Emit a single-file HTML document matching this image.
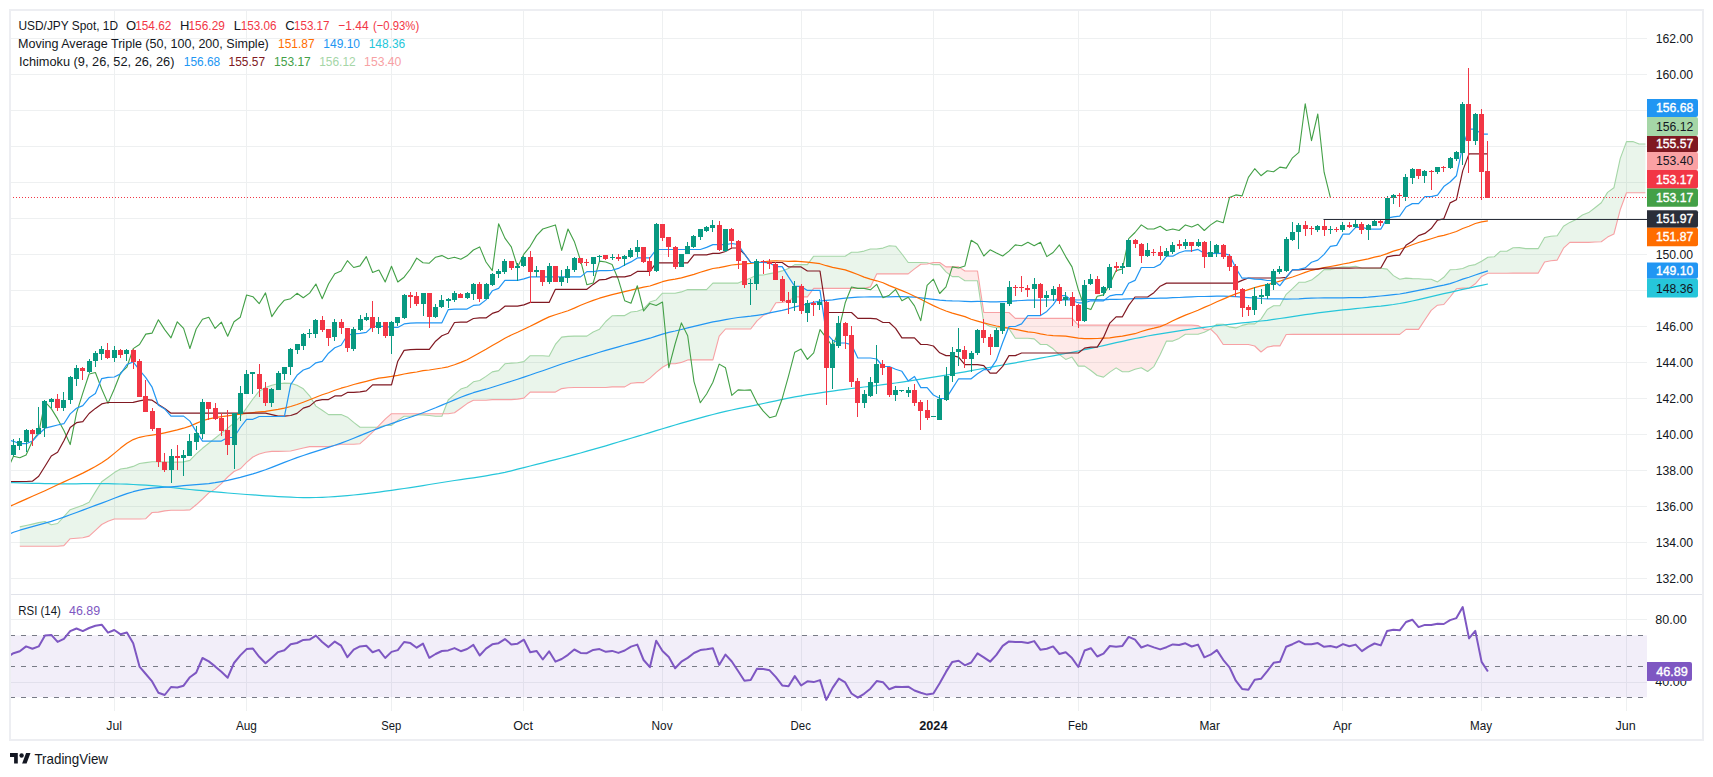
<!DOCTYPE html>
<html><head><meta charset="utf-8"><title>USD/JPY Spot chart</title>
<style>
html,body{margin:0;padding:0;background:#fff;}
body{width:1713px;height:777px;overflow:hidden;}
svg{display:block;font-family:"Liberation Sans",sans-serif;}
text{-webkit-font-smoothing:antialiased;}
</style></head><body>
<svg width="1713" height="777" viewBox="0 0 1713 777">
<rect x="0" y="0" width="1713" height="777" fill="#ffffff"/>

<g stroke="#eef0f1" stroke-width="1"><line x1="114.5" y1="11" x2="114.5" y2="594" /><line x1="114.5" y1="595" x2="114.5" y2="711" /><line x1="246.5" y1="11" x2="246.5" y2="594" /><line x1="246.5" y1="595" x2="246.5" y2="711" /><line x1="391.5" y1="11" x2="391.5" y2="594" /><line x1="391.5" y1="595" x2="391.5" y2="711" /><line x1="523.5" y1="11" x2="523.5" y2="594" /><line x1="523.5" y1="595" x2="523.5" y2="711" /><line x1="662.5" y1="11" x2="662.5" y2="594" /><line x1="662.5" y1="595" x2="662.5" y2="711" /><line x1="801.5" y1="11" x2="801.5" y2="594" /><line x1="801.5" y1="595" x2="801.5" y2="711" /><line x1="933.5" y1="11" x2="933.5" y2="594" /><line x1="933.5" y1="595" x2="933.5" y2="711" /><line x1="1078.5" y1="11" x2="1078.5" y2="594" /><line x1="1078.5" y1="595" x2="1078.5" y2="711" /><line x1="1210.5" y1="11" x2="1210.5" y2="594" /><line x1="1210.5" y1="595" x2="1210.5" y2="711" /><line x1="1342.5" y1="11" x2="1342.5" y2="594" /><line x1="1342.5" y1="595" x2="1342.5" y2="711" /><line x1="1481.5" y1="11" x2="1481.5" y2="594" /><line x1="1481.5" y1="595" x2="1481.5" y2="711" /><line x1="1626.5" y1="11" x2="1626.5" y2="594" /><line x1="1626.5" y1="595" x2="1626.5" y2="711" /><line x1="11" y1="578.5" x2="1647" y2="578.5" /><line x1="11" y1="542.5" x2="1647" y2="542.5" /><line x1="11" y1="506.5" x2="1647" y2="506.5" /><line x1="11" y1="470.5" x2="1647" y2="470.5" /><line x1="11" y1="434.5" x2="1647" y2="434.5" /><line x1="11" y1="398.5" x2="1647" y2="398.5" /><line x1="11" y1="362.5" x2="1647" y2="362.5" /><line x1="11" y1="326.5" x2="1647" y2="326.5" /><line x1="11" y1="290.5" x2="1647" y2="290.5" /><line x1="11" y1="254.5" x2="1647" y2="254.5" /><line x1="11" y1="218.5" x2="1647" y2="218.5" /><line x1="11" y1="182.5" x2="1647" y2="182.5" /><line x1="11" y1="146.5" x2="1647" y2="146.5" /><line x1="11" y1="110.5" x2="1647" y2="110.5" /><line x1="11" y1="74.5" x2="1647" y2="74.5" /><line x1="11" y1="38.5" x2="1647" y2="38.5" /><line x1="11" y1="619.5" x2="1647" y2="619.5" /><line x1="11" y1="682.5" x2="1647" y2="682.5" /></g>
<defs><clipPath id="cp"><rect x="11" y="11" width="1636" height="583"/></clipPath><clipPath id="cr"><rect x="11" y="595" width="1636" height="116"/></clipPath></defs>
<g clip-path="url(#cp)">
<polygon fill="rgba(67,160,71,0.11)" points="19.8,526.9 26.1,525.5 32.4,524.1 38.7,522.6 45.0,521.5 51.3,524.7 57.6,523.5 63.9,516.6 70.2,509.7 76.5,507.6 82.8,505.2 89.1,502.3 95.4,491.9 101.7,481.8 108.0,477.2 114.3,472.6 120.6,469.0 126.9,468.1 133.2,466.4 139.5,463.5 145.8,462.6 152.1,461.7 158.4,461.7 164.7,461.9 171.0,462.2 177.3,462.1 183.6,461.9 189.9,460.4 196.2,453.9 202.5,448.3 208.8,443.2 215.1,438.2 221.4,433.1 227.7,428.1 234.0,423.0 240.3,416.7 246.6,407.9 252.9,399.0 259.2,391.2 265.5,387.5 271.8,385.2 278.1,383.8 284.4,383.1 290.7,383.4 297.0,385.3 303.3,388.8 309.6,395.8 315.9,406.1 322.2,410.3 328.5,414.6 334.8,414.6 341.1,414.6 347.4,417.2 353.7,422.4 360.0,427.2 366.3,427.2 372.6,427.2 377.4,427.2 377.4,427.2 372.6,432.1 366.3,438.1 360.0,443.7 353.7,444.3 347.4,444.3 341.1,444.3 334.8,445.5 328.5,446.6 322.2,446.6 315.9,446.6 309.6,446.6 303.3,448.0 297.0,449.5 290.7,451.0 284.4,451.3 278.1,451.4 271.8,451.4 265.5,452.2 259.2,454.0 252.9,457.0 246.6,462.3 240.3,468.8 234.0,471.5 227.7,477.0 221.4,483.7 215.1,489.1 208.8,492.9 202.5,499.0 196.2,504.8 189.9,509.9 183.6,510.2 177.3,510.2 171.0,510.2 164.7,510.9 158.4,512.1 152.1,512.5 145.8,518.7 139.5,519.0 133.2,519.0 126.9,519.0 120.6,519.0 114.3,519.0 108.0,521.3 101.7,524.5 95.4,530.3 89.1,536.1 82.8,537.8 76.5,538.3 70.2,538.7 63.9,545.6 57.6,546.3 51.3,546.3 45.0,546.3 38.7,546.3 32.4,546.3 26.1,546.3 19.8,546.3"/>
<polygon fill="rgba(244,67,54,0.11)" points="377.4,427.2 378.9,427.2 385.2,425.4 391.5,425.4 397.8,420.4 404.1,416.3 410.4,416.3 416.7,414.9 423.0,414.9 429.3,415.5 435.6,416.3 441.9,416.3 442.9,413.7 442.9,413.7 441.9,413.7 435.6,413.7 429.3,413.7 423.0,413.7 416.7,413.7 410.4,413.7 404.1,413.7 397.8,413.7 391.5,413.7 385.2,419.2 378.9,425.6 377.4,427.2"/>
<polygon fill="rgba(67,160,71,0.11)" points="442.9,413.7 448.2,400.0 454.5,394.3 460.8,389.1 467.1,387.0 473.4,381.8 479.7,380.5 486.0,376.4 492.3,371.9 498.6,370.6 504.9,363.8 511.3,363.1 517.6,362.7 523.9,361.6 530.2,355.7 536.5,355.7 542.8,355.7 549.1,356.2 555.4,344.4 561.7,337.1 568.0,336.4 574.3,336.1 580.6,336.1 586.9,336.1 593.2,332.0 599.5,329.2 605.8,321.5 612.1,315.8 618.4,315.6 624.7,315.6 631.0,312.0 637.3,311.3 643.6,308.9 649.9,302.1 656.2,299.9 662.5,293.2 668.8,293.2 675.1,293.2 681.4,291.9 687.7,289.6 694.0,289.6 700.3,289.6 706.6,289.6 712.9,283.1 719.2,283.1 725.5,283.1 731.8,283.1 738.1,283.1 744.4,280.4 750.7,278.0 757.0,275.1 763.3,275.0 769.6,273.6 775.9,272.6 782.2,270.9 788.5,268.6 794.8,264.6 801.1,264.6 807.4,264.6 813.7,256.2 820.0,256.2 826.3,256.2 832.6,256.2 838.9,256.2 845.2,256.2 851.5,252.2 857.8,252.2 864.1,251.1 870.4,249.0 876.7,249.0 883.0,248.1 889.3,245.8 895.6,246.2 901.9,254.0 908.2,262.5 914.5,262.5 920.8,262.5 927.1,262.8 929.5,263.4 929.5,263.4 927.1,264.0 920.8,264.3 914.5,268.9 908.2,273.9 901.9,273.9 895.6,273.9 889.3,273.9 883.0,273.9 876.7,273.9 870.4,286.9 864.1,288.4 857.8,288.4 851.5,288.4 845.2,288.4 838.9,288.4 832.6,288.4 826.3,288.4 820.0,288.4 813.7,288.4 807.4,296.9 801.1,296.9 794.8,296.9 788.5,300.9 782.2,302.4 775.9,302.8 769.6,312.9 763.3,315.3 757.0,320.8 750.7,329.0 744.4,329.0 738.1,329.0 731.8,329.0 725.5,329.0 719.2,336.2 712.9,359.9 706.6,359.9 700.3,359.9 694.0,359.9 687.7,359.9 681.4,362.4 675.1,363.7 668.8,363.7 662.5,367.3 656.2,372.4 649.9,378.1 643.6,382.6 637.3,382.6 631.0,383.2 624.7,386.9 618.4,386.9 612.1,386.9 605.8,387.5 599.5,387.5 593.2,387.5 586.9,387.5 580.6,387.5 574.3,387.5 568.0,387.8 561.7,388.6 555.4,392.1 549.1,392.1 542.8,392.1 536.5,392.1 530.2,392.1 523.9,398.1 517.6,399.1 511.3,399.6 504.9,399.6 498.6,399.6 492.3,399.6 486.0,400.3 479.7,400.3 473.4,400.3 467.1,403.6 460.8,408.2 454.5,412.7 448.2,413.7 442.9,413.7"/>
<polygon fill="rgba(244,67,54,0.11)" points="929.5,263.4 933.4,264.6 939.7,264.6 946.0,271.9 952.3,276.6 958.6,276.6 964.9,280.8 971.2,280.8 977.5,280.8 983.8,323.0 990.1,326.4 996.4,327.8 1002.7,327.8 1009.0,328.6 1015.3,338.2 1021.6,338.2 1027.9,338.2 1034.2,338.9 1040.5,344.5 1046.8,344.5 1053.1,348.8 1059.4,354.6 1065.7,359.4 1072.0,357.1 1078.3,366.1 1084.6,366.1 1090.9,370.5 1097.2,375.5 1103.5,377.1 1109.8,372.1 1116.1,367.9 1122.4,371.7 1128.7,371.7 1135.0,369.2 1141.3,367.7 1147.6,371.5 1153.9,366.6 1160.2,354.4 1166.5,341.1 1172.8,341.1 1179.1,338.4 1185.4,334.3 1191.7,334.3 1198.0,334.3 1204.3,332.2 1210.1,329.2 1210.1,329.2 1204.3,329.2 1198.0,325.6 1191.7,325.1 1185.4,325.1 1179.1,325.1 1172.8,325.1 1166.5,325.1 1160.2,325.1 1153.9,325.1 1147.6,325.1 1141.3,325.1 1135.0,325.1 1128.7,325.1 1122.4,325.1 1116.1,325.1 1109.8,325.1 1103.5,325.1 1097.2,325.1 1090.9,325.1 1084.6,325.1 1078.3,325.1 1072.0,318.4 1065.7,318.4 1059.4,318.4 1053.1,318.4 1046.8,318.4 1040.5,318.4 1034.2,318.4 1027.9,318.4 1021.6,318.4 1015.3,318.4 1009.0,312.5 1002.7,312.5 996.4,312.5 990.1,312.5 983.8,312.5 977.5,271.0 971.2,271.0 964.9,271.0 958.6,266.9 952.3,266.9 946.0,266.9 939.7,262.5 933.4,262.5 929.5,263.4"/>
<polygon fill="rgba(67,160,71,0.11)" points="1210.1,329.2 1210.6,328.9 1216.9,324.3 1223.2,324.3 1229.5,326.9 1235.8,327.9 1242.1,325.4 1248.4,323.9 1254.7,323.9 1261.0,319.1 1267.3,309.5 1273.6,305.7 1279.9,305.7 1286.2,294.3 1292.5,288.7 1298.9,282.3 1305.2,282.3 1311.5,280.1 1317.8,275.3 1324.1,269.6 1330.4,269.6 1336.7,267.9 1343.0,266.9 1349.3,267.0 1355.6,266.2 1361.9,268.2 1368.2,268.2 1374.5,268.2 1380.8,268.2 1387.1,269.1 1393.4,275.6 1399.7,279.3 1406.0,278.1 1412.3,278.6 1418.6,278.7 1424.9,279.3 1431.2,279.3 1437.5,281.9 1443.8,277.3 1450.1,269.8 1456.4,269.5 1462.7,268.5 1469.0,265.7 1475.3,264.6 1481.6,261.3 1487.9,257.3 1494.2,256.8 1500.5,251.2 1506.8,251.2 1513.1,247.7 1519.4,247.6 1525.7,248.6 1532.0,248.6 1538.3,248.6 1544.6,237.5 1550.9,236.2 1557.2,235.7 1563.5,226.2 1569.8,222.4 1576.1,219.6 1582.4,215.0 1588.7,212.6 1595.0,207.7 1601.3,202.7 1607.6,192.4 1613.9,187.8 1620.2,158.6 1626.5,141.6 1632.8,141.6 1639.1,144.0 1645.4,144.0 1645.4,192.8 1639.1,192.8 1632.8,192.8 1626.5,192.8 1620.2,209.8 1613.9,234.0 1607.6,237.1 1601.3,241.7 1595.0,242.0 1588.7,242.4 1582.4,242.4 1576.1,242.4 1569.8,242.4 1563.5,248.2 1557.2,260.1 1550.9,260.7 1544.6,262.0 1538.3,273.1 1532.0,273.1 1525.7,273.1 1519.4,273.1 1513.1,273.1 1506.8,273.3 1500.5,273.3 1494.2,273.3 1487.9,273.3 1481.6,276.4 1475.3,283.8 1469.0,288.1 1462.7,288.1 1456.4,288.8 1450.1,297.0 1443.8,304.5 1437.5,305.2 1431.2,310.4 1424.9,319.8 1418.6,329.4 1412.3,329.4 1406.0,329.4 1399.7,334.4 1393.4,334.4 1387.1,334.4 1380.8,334.4 1374.5,334.4 1368.2,334.4 1361.9,334.4 1355.6,334.4 1349.3,334.4 1343.0,334.4 1336.7,334.4 1330.4,334.4 1324.1,334.4 1317.8,334.4 1311.5,334.4 1305.2,334.4 1298.9,334.4 1292.5,334.4 1286.2,334.5 1279.9,345.9 1273.6,345.9 1267.3,347.1 1261.0,352.0 1254.7,346.0 1248.4,344.5 1242.1,344.5 1235.8,344.5 1229.5,344.5 1223.2,344.5 1216.9,335.1 1210.6,329.2 1210.1,329.2"/>
<polyline fill="none" stroke="#a5d6a7" stroke-width="1.1" stroke-linejoin="round" points="19.8,526.9 26.1,525.5 32.4,524.1 38.7,522.6 45.0,521.5 51.3,524.7 57.6,523.5 63.9,516.6 70.2,509.7 76.5,507.6 82.8,505.2 89.1,502.3 95.4,491.9 101.7,481.8 108.0,477.2 114.3,472.6 120.6,469.0 126.9,468.1 133.2,466.4 139.5,463.5 145.8,462.6 152.1,461.7 158.4,461.7 164.7,461.9 171.0,462.2 177.3,462.1 183.6,461.9 189.9,460.4 196.2,453.9 202.5,448.3 208.8,443.2 215.1,438.2 221.4,433.1 227.7,428.1 234.0,423.0 240.3,416.7 246.6,407.9 252.9,399.0 259.2,391.2 265.5,387.5 271.8,385.2 278.1,383.8 284.4,383.1 290.7,383.4 297.0,385.3 303.3,388.8 309.6,395.8 315.9,406.1 322.2,410.3 328.5,414.6 334.8,414.6 341.1,414.6 347.4,417.2 353.7,422.4 360.0,427.2 366.3,427.2 372.6,427.2 378.9,427.2 385.2,425.4 391.5,425.4 397.8,420.4 404.1,416.3 410.4,416.3 416.7,414.9 423.0,414.9 429.3,415.5 435.6,416.3 441.9,416.3 448.2,400.0 454.5,394.3 460.8,389.1 467.1,387.0 473.4,381.8 479.7,380.5 486.0,376.4 492.3,371.9 498.6,370.6 504.9,363.8 511.3,363.1 517.6,362.7 523.9,361.6 530.2,355.7 536.5,355.7 542.8,355.7 549.1,356.2 555.4,344.4 561.7,337.1 568.0,336.4 574.3,336.1 580.6,336.1 586.9,336.1 593.2,332.0 599.5,329.2 605.8,321.5 612.1,315.8 618.4,315.6 624.7,315.6 631.0,312.0 637.3,311.3 643.6,308.9 649.9,302.1 656.2,299.9 662.5,293.2 668.8,293.2 675.1,293.2 681.4,291.9 687.7,289.6 694.0,289.6 700.3,289.6 706.6,289.6 712.9,283.1 719.2,283.1 725.5,283.1 731.8,283.1 738.1,283.1 744.4,280.4 750.7,278.0 757.0,275.1 763.3,275.0 769.6,273.6 775.9,272.6 782.2,270.9 788.5,268.6 794.8,264.6 801.1,264.6 807.4,264.6 813.7,256.2 820.0,256.2 826.3,256.2 832.6,256.2 838.9,256.2 845.2,256.2 851.5,252.2 857.8,252.2 864.1,251.1 870.4,249.0 876.7,249.0 883.0,248.1 889.3,245.8 895.6,246.2 901.9,254.0 908.2,262.5 914.5,262.5 920.8,262.5 927.1,262.8 933.4,264.6 939.7,264.6 946.0,271.9 952.3,276.6 958.6,276.6 964.9,280.8 971.2,280.8 977.5,280.8 983.8,323.0 990.1,326.4 996.4,327.8 1002.7,327.8 1009.0,328.6 1015.3,338.2 1021.6,338.2 1027.9,338.2 1034.2,338.9 1040.5,344.5 1046.8,344.5 1053.1,348.8 1059.4,354.6 1065.7,359.4 1072.0,357.1 1078.3,366.1 1084.6,366.1 1090.9,370.5 1097.2,375.5 1103.5,377.1 1109.8,372.1 1116.1,367.9 1122.4,371.7 1128.7,371.7 1135.0,369.2 1141.3,367.7 1147.6,371.5 1153.9,366.6 1160.2,354.4 1166.5,341.1 1172.8,341.1 1179.1,338.4 1185.4,334.3 1191.7,334.3 1198.0,334.3 1204.3,332.2 1210.6,328.9 1216.9,324.3 1223.2,324.3 1229.5,326.9 1235.8,327.9 1242.1,325.4 1248.4,323.9 1254.7,323.9 1261.0,319.1 1267.3,309.5 1273.6,305.7 1279.9,305.7 1286.2,294.3 1292.5,288.7 1298.9,282.3 1305.2,282.3 1311.5,280.1 1317.8,275.3 1324.1,269.6 1330.4,269.6 1336.7,267.9 1343.0,266.9 1349.3,267.0 1355.6,266.2 1361.9,268.2 1368.2,268.2 1374.5,268.2 1380.8,268.2 1387.1,269.1 1393.4,275.6 1399.7,279.3 1406.0,278.1 1412.3,278.6 1418.6,278.7 1424.9,279.3 1431.2,279.3 1437.5,281.9 1443.8,277.3 1450.1,269.8 1456.4,269.5 1462.7,268.5 1469.0,265.7 1475.3,264.6 1481.6,261.3 1487.9,257.3 1494.2,256.8 1500.5,251.2 1506.8,251.2 1513.1,247.7 1519.4,247.6 1525.7,248.6 1532.0,248.6 1538.3,248.6 1544.6,237.5 1550.9,236.2 1557.2,235.7 1563.5,226.2 1569.8,222.4 1576.1,219.6 1582.4,215.0 1588.7,212.6 1595.0,207.7 1601.3,202.7 1607.6,192.4 1613.9,187.8 1620.2,158.6 1626.5,141.6 1632.8,141.6 1639.1,144.0 1645.4,144.0"/>
<polyline fill="none" stroke="#f7a1a4" stroke-width="1.1" stroke-linejoin="round" points="19.8,546.3 26.1,546.3 32.4,546.3 38.7,546.3 45.0,546.3 51.3,546.3 57.6,546.3 63.9,545.6 70.2,538.7 76.5,538.3 82.8,537.8 89.1,536.1 95.4,530.3 101.7,524.5 108.0,521.3 114.3,519.0 120.6,519.0 126.9,519.0 133.2,519.0 139.5,519.0 145.8,518.7 152.1,512.5 158.4,512.1 164.7,510.9 171.0,510.2 177.3,510.2 183.6,510.2 189.9,509.9 196.2,504.8 202.5,499.0 208.8,492.9 215.1,489.1 221.4,483.7 227.7,477.0 234.0,471.5 240.3,468.8 246.6,462.3 252.9,457.0 259.2,454.0 265.5,452.2 271.8,451.4 278.1,451.4 284.4,451.3 290.7,451.0 297.0,449.5 303.3,448.0 309.6,446.6 315.9,446.6 322.2,446.6 328.5,446.6 334.8,445.5 341.1,444.3 347.4,444.3 353.7,444.3 360.0,443.7 366.3,438.1 372.6,432.1 378.9,425.6 385.2,419.2 391.5,413.7 397.8,413.7 404.1,413.7 410.4,413.7 416.7,413.7 423.0,413.7 429.3,413.7 435.6,413.7 441.9,413.7 448.2,413.7 454.5,412.7 460.8,408.2 467.1,403.6 473.4,400.3 479.7,400.3 486.0,400.3 492.3,399.6 498.6,399.6 504.9,399.6 511.3,399.6 517.6,399.1 523.9,398.1 530.2,392.1 536.5,392.1 542.8,392.1 549.1,392.1 555.4,392.1 561.7,388.6 568.0,387.8 574.3,387.5 580.6,387.5 586.9,387.5 593.2,387.5 599.5,387.5 605.8,387.5 612.1,386.9 618.4,386.9 624.7,386.9 631.0,383.2 637.3,382.6 643.6,382.6 649.9,378.1 656.2,372.4 662.5,367.3 668.8,363.7 675.1,363.7 681.4,362.4 687.7,359.9 694.0,359.9 700.3,359.9 706.6,359.9 712.9,359.9 719.2,336.2 725.5,329.0 731.8,329.0 738.1,329.0 744.4,329.0 750.7,329.0 757.0,320.8 763.3,315.3 769.6,312.9 775.9,302.8 782.2,302.4 788.5,300.9 794.8,296.9 801.1,296.9 807.4,296.9 813.7,288.4 820.0,288.4 826.3,288.4 832.6,288.4 838.9,288.4 845.2,288.4 851.5,288.4 857.8,288.4 864.1,288.4 870.4,286.9 876.7,273.9 883.0,273.9 889.3,273.9 895.6,273.9 901.9,273.9 908.2,273.9 914.5,268.9 920.8,264.3 927.1,264.0 933.4,262.5 939.7,262.5 946.0,266.9 952.3,266.9 958.6,266.9 964.9,271.0 971.2,271.0 977.5,271.0 983.8,312.5 990.1,312.5 996.4,312.5 1002.7,312.5 1009.0,312.5 1015.3,318.4 1021.6,318.4 1027.9,318.4 1034.2,318.4 1040.5,318.4 1046.8,318.4 1053.1,318.4 1059.4,318.4 1065.7,318.4 1072.0,318.4 1078.3,325.1 1084.6,325.1 1090.9,325.1 1097.2,325.1 1103.5,325.1 1109.8,325.1 1116.1,325.1 1122.4,325.1 1128.7,325.1 1135.0,325.1 1141.3,325.1 1147.6,325.1 1153.9,325.1 1160.2,325.1 1166.5,325.1 1172.8,325.1 1179.1,325.1 1185.4,325.1 1191.7,325.1 1198.0,325.6 1204.3,329.2 1210.6,329.2 1216.9,335.1 1223.2,344.5 1229.5,344.5 1235.8,344.5 1242.1,344.5 1248.4,344.5 1254.7,346.0 1261.0,352.0 1267.3,347.1 1273.6,345.9 1279.9,345.9 1286.2,334.5 1292.5,334.4 1298.9,334.4 1305.2,334.4 1311.5,334.4 1317.8,334.4 1324.1,334.4 1330.4,334.4 1336.7,334.4 1343.0,334.4 1349.3,334.4 1355.6,334.4 1361.9,334.4 1368.2,334.4 1374.5,334.4 1380.8,334.4 1387.1,334.4 1393.4,334.4 1399.7,334.4 1406.0,329.4 1412.3,329.4 1418.6,329.4 1424.9,319.8 1431.2,310.4 1437.5,305.2 1443.8,304.5 1450.1,297.0 1456.4,288.8 1462.7,288.1 1469.0,288.1 1475.3,283.8 1481.6,276.4 1487.9,273.3 1494.2,273.3 1500.5,273.3 1506.8,273.3 1513.1,273.1 1519.4,273.1 1525.7,273.1 1532.0,273.1 1538.3,273.1 1544.6,262.0 1550.9,260.7 1557.2,260.1 1563.5,248.2 1569.8,242.4 1576.1,242.4 1582.4,242.4 1588.7,242.4 1595.0,242.0 1601.3,241.7 1607.6,237.1 1613.9,234.0 1620.2,209.8 1626.5,192.8 1632.8,192.8 1639.1,192.8 1645.4,192.8"/>
<polyline fill="none" stroke="#26c6da" stroke-width="1.2" stroke-linejoin="round" points="7.2,482.5 13.5,482.7 19.8,482.9 26.1,483.1 32.4,483.3 38.7,483.4 45.0,483.6 51.3,483.7 57.6,483.8 63.9,483.9 70.2,483.8 76.5,483.8 82.8,483.7 89.1,483.7 95.4,483.7 101.7,483.7 108.0,483.7 114.3,483.8 120.6,484.0 126.9,484.2 133.2,484.5 139.5,484.8 145.8,485.2 152.1,485.6 158.4,486.2 164.7,486.8 171.0,487.5 177.3,488.1 183.6,488.8 189.9,489.5 196.2,490.1 202.5,490.7 208.8,491.3 215.1,491.8 221.4,492.4 227.7,493.0 234.0,493.5 240.3,494.0 246.6,494.5 252.9,494.9 259.2,495.3 265.5,495.8 271.8,496.2 278.1,496.6 284.4,496.9 290.7,497.2 297.0,497.5 303.3,497.6 309.6,497.6 315.9,497.5 322.2,497.3 328.5,497.0 334.8,496.6 341.1,496.1 347.4,495.6 353.7,495.0 360.0,494.4 366.3,493.7 372.6,492.9 378.9,492.1 385.2,491.2 391.5,490.3 397.8,489.4 404.1,488.5 410.4,487.6 416.7,486.6 423.0,485.6 429.3,484.5 435.6,483.5 441.9,482.5 448.2,481.5 454.5,480.5 460.8,479.6 467.1,478.7 473.4,477.8 479.7,476.8 486.0,475.8 492.3,474.7 498.6,473.6 504.9,472.3 511.3,470.8 517.6,469.2 523.9,467.6 530.2,466.0 536.5,464.4 542.8,462.8 549.1,461.2 555.4,459.6 561.7,458.0 568.0,456.3 574.3,454.7 580.6,453.0 586.9,451.2 593.2,449.4 599.5,447.6 605.8,445.8 612.1,443.9 618.4,442.0 624.7,440.2 631.0,438.3 637.3,436.4 643.6,434.5 649.9,432.6 656.2,430.6 662.5,428.7 668.8,426.9 675.1,425.0 681.4,423.2 687.7,421.4 694.0,419.6 700.3,417.9 706.6,416.1 712.9,414.5 719.2,412.9 725.5,411.4 731.8,410.0 738.1,408.6 744.4,407.4 750.7,406.1 757.0,404.8 763.3,403.5 769.6,402.1 775.9,400.8 782.2,399.4 788.5,398.1 794.8,396.9 801.1,395.8 807.4,394.7 813.7,393.8 820.0,392.8 826.3,391.9 832.6,391.1 838.9,390.2 845.2,389.3 851.5,388.5 857.8,387.8 864.1,387.0 870.4,386.3 876.7,385.5 883.0,384.7 889.3,383.8 895.6,383.0 901.9,382.1 908.2,381.1 914.5,380.2 920.8,379.2 927.1,378.2 933.4,377.2 939.7,376.2 946.0,375.1 952.3,374.0 958.6,372.9 964.9,371.8 971.2,370.6 977.5,369.5 983.8,368.4 990.1,367.3 996.4,366.2 1002.7,365.0 1009.0,363.9 1015.3,362.8 1021.6,361.6 1027.9,360.5 1034.2,359.3 1040.5,358.2 1046.8,357.0 1053.1,355.9 1059.4,354.7 1065.7,353.5 1072.0,352.3 1078.3,351.0 1084.6,349.7 1090.9,348.4 1097.2,347.0 1103.5,345.6 1109.8,344.1 1116.1,342.7 1122.4,341.3 1128.7,339.9 1135.0,338.5 1141.3,337.3 1147.6,336.0 1153.9,334.9 1160.2,333.8 1166.5,332.8 1172.8,331.8 1179.1,330.8 1185.4,329.9 1191.7,329.0 1198.0,328.1 1204.3,327.3 1210.6,326.5 1216.9,325.7 1223.2,325.0 1229.5,324.3 1235.8,323.6 1242.1,322.9 1248.4,322.3 1254.7,321.6 1261.0,321.0 1267.3,320.3 1273.6,319.4 1279.9,318.5 1286.2,317.6 1292.5,316.6 1298.9,315.6 1305.2,314.7 1311.5,313.8 1317.8,312.9 1324.1,312.1 1330.4,311.4 1336.7,310.7 1343.0,309.9 1349.3,309.3 1355.6,308.6 1361.9,308.0 1368.2,307.4 1374.5,306.7 1380.8,306.1 1387.1,305.3 1393.4,304.5 1399.7,303.5 1406.0,302.3 1412.3,301.0 1418.6,299.6 1424.9,298.1 1431.2,296.6 1437.5,295.2 1443.8,293.7 1450.1,292.3 1456.4,290.9 1462.7,289.4 1469.0,288.1 1475.3,286.6 1481.6,285.3 1487.9,284.0"/>
<polyline fill="none" stroke="#2196f3" stroke-width="1.2" stroke-linejoin="round" points="7.2,534.9 13.5,532.3 19.8,530.2 26.1,528.4 32.4,526.6 38.7,524.9 45.0,523.2 51.3,521.4 57.6,519.3 63.9,517.1 70.2,514.8 76.5,512.5 82.8,510.1 89.1,507.7 95.4,505.4 101.7,503.1 108.0,500.7 114.3,498.3 120.6,495.9 126.9,493.6 133.2,491.7 139.5,490.1 145.8,488.9 152.1,488.2 158.4,487.6 164.7,487.2 171.0,486.8 177.3,486.3 183.6,485.7 189.9,485.2 196.2,484.7 202.5,484.2 208.8,483.6 215.1,482.7 221.4,481.6 227.7,480.4 234.0,478.9 240.3,477.4 246.6,475.7 252.9,473.9 259.2,471.9 265.5,469.8 271.8,467.4 278.1,464.9 284.4,462.4 290.7,460.0 297.0,457.6 303.3,455.5 309.6,453.4 315.9,451.4 322.2,449.4 328.5,447.4 334.8,445.3 341.1,443.1 347.4,440.7 353.7,438.2 360.0,435.6 366.3,433.1 372.6,430.5 378.9,428.1 385.2,425.8 391.5,423.6 397.8,421.4 404.1,419.3 410.4,417.2 416.7,415.0 423.0,412.7 429.3,410.3 435.6,407.8 441.9,405.1 448.2,402.5 454.5,399.9 460.8,397.3 467.1,394.9 473.4,392.7 479.7,390.9 486.0,389.2 492.3,387.3 498.6,385.3 504.9,383.3 511.3,381.2 517.6,379.2 523.9,377.1 530.2,375.0 536.5,372.8 542.8,370.7 549.1,368.5 555.4,366.3 561.7,364.0 568.0,362.0 574.3,360.0 580.6,358.0 586.9,356.1 593.2,354.2 599.5,352.3 605.8,350.4 612.1,348.6 618.4,346.8 624.7,345.0 631.0,343.4 637.3,341.7 643.6,339.9 649.9,338.2 656.2,336.1 662.5,334.1 668.8,332.3 675.1,331.0 681.4,329.5 687.7,327.9 694.0,326.3 700.3,324.8 706.6,323.4 712.9,321.9 719.2,320.8 725.5,319.6 731.8,318.5 738.1,317.5 744.4,316.9 750.7,316.2 757.0,315.3 763.3,314.3 769.6,312.9 775.9,311.6 782.2,310.3 788.5,308.8 794.8,306.9 801.1,305.5 807.4,303.9 813.7,302.4 820.0,301.0 826.3,300.4 832.6,299.8 838.9,298.9 845.2,298.1 851.5,297.6 857.8,297.2 864.1,297.0 870.4,296.9 876.7,296.8 883.0,296.8 889.3,296.8 895.6,296.7 901.9,296.7 908.2,296.9 914.5,297.2 920.8,297.9 927.1,298.6 933.4,299.4 939.7,300.1 946.0,300.6 952.3,300.9 958.6,301.0 964.9,301.3 971.2,301.6 977.5,301.4 983.8,301.5 990.1,301.8 996.4,301.9 1002.7,301.6 1009.0,301.3 1015.3,300.8 1021.6,300.5 1027.9,300.2 1034.2,300.1 1040.5,300.1 1046.8,300.0 1053.1,300.0 1059.4,299.8 1065.7,299.7 1072.0,299.8 1078.3,300.0 1084.6,299.9 1090.9,299.7 1097.2,299.7 1103.5,299.8 1109.8,299.4 1116.1,299.3 1122.4,299.2 1128.7,298.9 1135.0,298.7 1141.3,298.6 1147.6,298.4 1153.9,298.4 1160.2,298.2 1166.5,298.1 1172.8,297.7 1179.1,297.5 1185.4,297.1 1191.7,296.8 1198.0,296.5 1204.3,296.5 1210.6,296.4 1216.9,296.2 1223.2,296.2 1229.5,296.3 1235.8,296.6 1242.1,297.1 1248.4,297.6 1254.7,298.0 1261.0,298.5 1267.3,298.8 1273.6,298.9 1279.9,298.9 1286.2,299.1 1292.5,299.0 1298.9,298.8 1305.2,298.4 1311.5,298.2 1317.8,298.0 1324.1,297.9 1330.4,297.9 1336.7,297.9 1343.0,297.9 1349.3,297.7 1355.6,297.7 1361.9,297.6 1368.2,297.2 1374.5,296.6 1380.8,296.0 1387.1,295.3 1393.4,294.7 1399.7,294.0 1406.0,292.9 1412.3,291.6 1418.6,290.3 1424.9,289.2 1431.2,287.8 1437.5,286.4 1443.8,285.1 1450.1,283.6 1456.4,281.5 1462.7,279.1 1469.0,277.2 1475.3,275.0 1481.6,272.9 1487.9,270.9"/>
<polyline fill="none" stroke="#ff6d00" stroke-width="1.2" stroke-linejoin="round" points="7.2,507.4 13.5,504.7 19.8,501.9 26.1,499.1 32.4,496.3 38.7,493.5 45.0,490.7 51.3,487.8 57.6,484.8 63.9,481.9 70.2,479.0 76.5,476.1 82.8,473.1 89.1,469.9 95.4,466.5 101.7,462.8 108.0,458.5 114.3,453.4 120.6,448.1 126.9,443.3 133.2,439.6 139.5,437.3 145.8,436.0 152.1,435.1 158.4,434.2 164.7,432.8 171.0,431.4 177.3,429.9 183.6,428.2 189.9,426.1 196.2,423.4 202.5,420.8 208.8,418.9 215.1,417.6 221.4,416.6 227.7,415.8 234.0,415.0 240.3,414.2 246.6,413.3 252.9,412.6 259.2,411.9 265.5,411.3 271.8,410.4 278.1,409.4 284.4,408.1 290.7,406.5 297.0,404.5 303.3,402.2 309.6,399.8 315.9,397.3 322.2,394.8 328.5,392.7 334.8,390.3 341.1,388.2 347.4,386.5 353.7,384.5 360.0,382.9 366.3,381.3 372.6,379.7 378.9,378.1 385.2,377.3 391.5,376.4 397.8,375.3 404.1,374.0 410.4,372.9 416.7,372.0 423.0,370.7 429.3,370.0 435.6,369.0 441.9,368.0 448.2,366.8 454.5,364.7 460.8,362.4 467.1,359.7 473.4,356.2 479.7,352.7 486.0,349.3 492.3,345.6 498.6,341.9 504.9,338.3 511.3,335.0 517.6,332.3 523.9,329.3 530.2,326.3 536.5,323.1 542.8,319.9 549.1,316.9 555.4,314.7 561.7,312.8 568.0,310.7 574.3,308.1 580.6,305.3 586.9,302.8 593.2,300.4 599.5,298.2 605.8,296.4 612.1,294.7 618.4,293.2 624.7,291.6 631.0,290.2 637.3,288.6 643.6,287.1 649.9,286.0 656.2,283.9 662.5,281.7 668.8,280.1 675.1,279.1 681.4,277.8 687.7,276.1 694.0,274.4 700.3,272.3 706.6,270.4 712.9,268.5 719.2,267.6 725.5,266.3 731.8,265.0 738.1,264.4 744.4,263.8 750.7,263.3 757.0,262.5 763.3,261.8 769.6,261.2 775.9,260.8 782.2,261.0 788.5,261.4 794.8,261.1 801.1,261.6 807.4,262.2 813.7,262.9 820.0,263.7 826.3,265.7 832.6,267.3 838.9,268.6 845.2,269.9 851.5,272.1 857.8,274.5 864.1,277.1 870.4,279.1 876.7,280.8 883.0,282.8 889.3,285.6 895.6,288.1 901.9,290.6 908.2,293.3 914.5,296.2 920.8,299.3 927.1,302.5 933.4,305.6 939.7,308.5 946.0,311.0 952.3,313.1 958.6,314.9 964.9,316.6 971.2,319.2 977.5,321.1 983.8,322.9 990.1,324.5 996.4,326.0 1002.7,327.1 1009.0,328.1 1015.3,329.3 1021.6,330.6 1027.9,331.9 1034.2,332.5 1040.5,333.9 1046.8,335.0 1053.1,335.6 1059.4,335.9 1065.7,336.2 1072.0,337.1 1078.3,338.2 1084.6,338.6 1090.9,338.6 1097.2,338.5 1103.5,338.2 1109.8,337.8 1116.1,336.9 1122.4,336.2 1128.7,334.9 1135.0,333.7 1141.3,331.5 1147.6,329.6 1153.9,328.2 1160.2,326.6 1166.5,324.0 1172.8,320.8 1179.1,317.9 1185.4,315.1 1191.7,312.7 1198.0,310.2 1204.3,307.4 1210.6,304.7 1216.9,301.8 1223.2,299.1 1229.5,296.4 1235.8,293.9 1242.1,291.7 1248.4,289.6 1254.7,287.6 1261.0,285.9 1267.3,284.6 1273.6,283.0 1279.9,281.2 1286.2,278.9 1292.5,277.0 1298.9,274.7 1305.2,272.4 1311.5,270.3 1317.8,268.8 1324.1,267.7 1330.4,266.5 1336.7,265.3 1343.0,264.0 1349.3,262.9 1355.6,261.4 1361.9,260.1 1368.2,258.8 1374.5,257.2 1380.8,255.8 1387.1,253.6 1393.4,251.1 1399.7,249.3 1406.0,247.3 1412.3,244.8 1418.6,242.5 1424.9,240.6 1431.2,238.7 1437.5,236.7 1443.8,235.3 1450.1,233.5 1456.4,231.5 1462.7,228.5 1469.0,226.3 1475.3,223.5 1481.6,221.9 1487.9,220.9"/>
<polyline fill="none" stroke="#43a047" stroke-width="1.1" stroke-linejoin="round" points="7.2,469.8 13.5,456.3 19.8,457.8 26.1,454.9 32.4,440.9 38.7,432.7 45.0,401.8 51.3,408.6 57.6,418.9 63.9,430.6 70.2,444.6 76.5,413.1 82.8,393.1 89.1,374.0 95.4,372.5 101.7,389.0 108.0,403.4 114.3,389.0 120.6,373.0 126.9,367.2 133.2,348.6 139.5,344.5 145.8,334.1 152.1,333.1 158.4,319.7 164.7,329.6 171.0,337.8 177.3,321.8 183.6,328.4 189.9,348.5 196.2,329.0 202.5,319.3 208.8,317.2 215.1,328.4 221.4,322.2 227.7,336.2 234.0,321.8 240.3,317.2 246.6,295.0 252.9,296.7 259.2,303.7 265.5,292.9 271.8,316.6 278.1,307.4 284.4,300.2 290.7,298.7 297.0,293.3 303.3,297.8 309.6,293.1 315.9,284.0 322.2,298.8 328.5,284.0 334.8,273.7 341.1,271.0 347.4,260.7 353.7,267.5 360.0,265.9 366.3,256.6 372.6,272.5 378.9,270.0 385.2,282.0 391.5,266.3 397.8,282.0 404.1,277.2 410.4,269.0 416.7,258.1 423.0,262.8 429.3,263.2 435.6,257.2 441.9,255.6 448.2,258.7 454.5,257.2 460.8,259.3 467.1,255.8 473.4,250.0 479.7,246.9 486.0,262.0 492.3,270.6 498.6,223.7 504.9,238.1 511.3,246.9 517.6,266.9 523.9,254.1 530.2,246.3 536.5,235.6 542.8,229.0 549.1,227.0 555.4,224.9 561.7,250.4 568.0,229.0 574.3,241.4 580.6,260.6 586.9,284.8 593.2,283.0 599.5,261.1 605.8,262.0 612.1,264.5 618.4,279.6 624.7,300.7 631.0,303.3 637.3,285.7 643.6,311.0 649.9,303.4 656.2,305.4 662.5,302.0 668.8,367.8 675.1,344.0 681.4,322.9 687.7,335.7 694.0,381.6 700.3,402.8 706.6,394.0 712.9,382.3 719.2,364.1 725.5,367.8 731.8,395.4 738.1,389.9 744.4,390.3 750.7,389.9 757.0,402.8 763.3,411.1 769.6,417.7 775.9,416.0 782.2,398.7 788.5,376.1 794.8,352.2 801.1,349.1 807.4,359.4 813.7,352.9 820.0,329.6 826.3,337.8 832.6,346.7 838.9,329.6 845.2,302.8 851.5,287.0 857.8,288.4 864.1,288.4 870.4,289.8 876.7,284.3 883.0,297.7 889.3,295.2 895.6,289.4 901.9,300.7 908.2,297.2 914.5,305.9 920.8,320.7 927.1,285.3 933.4,279.1 939.7,293.5 946.0,286.9 952.3,266.9 958.6,268.0 964.9,265.9 971.2,240.2 977.5,244.3 983.8,256.0 990.1,249.8 996.4,253.1 1002.7,256.0 1009.0,251.1 1015.3,244.9 1021.6,245.7 1027.9,242.2 1034.2,245.7 1040.5,242.2 1046.8,256.6 1053.1,252.5 1059.4,244.9 1065.7,256.6 1072.0,266.9 1078.3,289.6 1084.6,307.5 1090.9,309.6 1097.2,296.3 1103.5,294.9 1109.8,284.0 1116.1,270.6 1122.4,269.0 1128.7,238.7 1135.0,232.5 1141.3,224.9 1147.6,229.0 1153.9,229.0 1160.2,226.3 1166.5,230.5 1172.8,229.0 1179.1,230.5 1185.4,224.9 1191.7,227.0 1198.0,224.3 1204.3,230.5 1210.6,224.9 1216.9,220.8 1223.2,222.8 1229.5,197.5 1235.8,194.9 1242.1,195.9 1248.4,177.4 1254.7,168.7 1261.0,175.7 1267.3,170.8 1273.6,171.8 1279.9,167.1 1286.2,168.1 1292.5,157.8 1298.9,152.3 1305.2,103.7 1311.5,140.7 1317.8,114.0 1324.1,172.2 1330.4,197.6"/>
<polyline fill="none" stroke="#801922" stroke-width="1.2" stroke-linejoin="round" points="7.2,481.5 13.5,481.5 19.8,481.5 26.1,481.5 32.4,481.2 38.7,476.3 45.0,466.3 51.3,456.0 57.6,452.3 63.9,440.7 70.2,427.5 76.5,422.7 82.8,421.7 89.1,413.5 95.4,408.4 101.7,403.9 108.0,402.5 114.3,402.5 120.6,402.5 126.9,402.5 133.2,402.4 139.5,400.9 145.8,399.7 152.1,400.2 158.4,404.4 164.7,408.6 171.0,413.2 177.3,413.2 183.6,413.2 189.9,413.2 196.2,413.2 202.5,413.2 208.8,413.2 215.1,413.2 221.4,413.2 227.7,413.2 234.0,413.2 240.3,413.2 246.6,413.2 252.9,413.2 259.2,413.2 265.5,413.2 271.8,414.6 278.1,416.1 284.4,416.1 290.7,415.5 297.0,413.4 303.3,408.1 309.6,406.1 315.9,400.9 322.2,399.6 328.5,399.6 334.8,395.9 341.1,395.9 347.4,392.4 353.7,392.4 360.0,391.9 366.3,390.9 372.6,384.9 378.9,384.9 385.2,384.9 391.5,384.9 397.8,361.2 404.1,350.4 410.4,349.7 416.7,349.4 423.0,349.4 429.3,349.4 435.6,341.2 441.9,335.7 448.2,333.2 454.5,322.5 460.8,322.1 467.1,322.1 473.4,318.5 479.7,317.9 486.0,317.9 492.3,313.4 498.6,311.4 504.9,306.2 511.3,306.2 517.6,306.2 523.9,304.9 530.2,302.4 536.5,302.4 542.8,302.4 549.1,302.4 555.4,289.3 561.7,289.3 568.0,289.3 574.3,289.3 580.6,289.3 586.9,289.3 593.2,284.4 599.5,279.8 605.8,279.4 612.1,276.9 618.4,276.9 624.7,276.9 631.0,275.3 637.3,271.4 643.6,271.4 649.9,271.4 656.2,262.9 662.5,262.9 668.8,262.9 675.1,262.9 681.4,262.9 687.7,262.9 694.0,254.8 700.3,254.8 706.6,254.8 712.9,253.3 719.2,253.3 725.5,251.5 731.8,248.0 738.1,248.0 744.4,254.0 750.7,262.5 757.0,262.5 763.3,262.5 769.6,262.5 775.9,262.5 782.2,262.5 788.5,266.9 794.8,266.9 801.1,266.9 807.4,271.0 813.7,271.0 820.0,271.0 826.3,312.5 832.6,312.5 838.9,312.5 845.2,312.5 851.5,312.5 857.8,318.4 864.1,318.4 870.4,318.4 876.7,318.9 883.0,322.5 889.3,322.5 895.6,328.4 901.9,337.8 908.2,337.8 914.5,337.8 920.8,344.5 927.1,344.5 933.4,346.0 939.7,352.8 946.0,355.6 952.3,355.6 958.6,357.1 964.9,364.6 971.2,364.6 977.5,364.6 983.8,365.6 990.1,373.2 996.4,373.2 1002.7,366.4 1009.0,355.6 1015.3,355.6 1021.6,353.0 1027.9,353.0 1034.2,353.0 1040.5,353.0 1046.8,353.0 1053.1,353.0 1059.4,353.0 1065.7,353.0 1072.0,353.0 1078.3,353.0 1084.6,348.1 1090.9,347.1 1097.2,347.1 1103.5,337.4 1109.8,323.1 1116.1,316.8 1122.4,316.8 1128.7,305.4 1135.0,297.0 1141.3,297.0 1147.6,297.0 1153.9,292.7 1160.2,286.2 1166.5,283.1 1172.8,283.1 1179.1,283.1 1185.4,283.1 1191.7,283.1 1198.0,283.1 1204.3,283.1 1210.6,283.1 1216.9,283.1 1223.2,283.1 1229.5,283.1 1235.8,283.1 1242.1,280.4 1248.4,278.0 1254.7,278.0 1261.0,278.0 1267.3,278.0 1273.6,278.0 1279.9,278.0 1286.2,277.3 1292.5,269.8 1298.9,269.8 1305.2,269.1 1311.5,269.1 1317.8,269.1 1324.1,268.2 1330.4,268.2 1336.7,268.2 1343.0,268.2 1349.3,268.2 1355.6,268.0 1361.9,268.0 1368.2,268.0 1374.5,268.0 1380.8,268.0 1387.1,256.9 1393.4,255.6 1399.7,255.1 1406.0,245.3 1412.3,241.2 1418.6,235.6 1424.9,233.4 1431.2,228.6 1437.5,220.2 1443.8,218.8 1450.1,202.9 1456.4,199.8 1462.7,170.9 1469.0,153.9 1475.3,153.9 1481.6,153.9 1487.9,153.9"/>
<polyline fill="none" stroke="#2196f3" stroke-width="1.2" stroke-linejoin="round" points="7.2,439.8 13.5,441.3 19.8,443.7 26.1,443.7 32.4,441.0 38.7,434.2 45.0,428.2 51.3,426.6 57.6,425.0 63.9,423.7 70.2,413.9 76.5,408.2 82.8,405.6 89.1,397.8 95.4,393.6 101.7,378.6 108.0,377.4 114.3,377.0 120.6,373.9 126.9,364.5 133.2,361.9 139.5,370.1 145.8,377.6 152.1,387.2 158.4,405.2 164.7,408.9 171.0,416.1 177.3,416.1 183.6,416.1 189.9,421.1 196.2,431.6 202.5,441.1 208.8,441.1 215.1,441.1 221.4,441.1 227.7,437.5 234.0,437.5 240.3,427.5 246.6,419.3 252.9,419.3 259.2,416.5 265.5,416.5 271.8,416.5 278.1,416.5 284.4,416.5 290.7,384.6 297.0,375.3 303.3,370.0 309.6,367.9 315.9,362.8 322.2,361.4 328.5,353.2 334.8,347.8 341.1,345.3 347.4,335.2 353.7,333.8 360.0,333.4 366.3,332.4 372.6,326.4 378.9,326.4 385.2,326.4 391.5,327.4 397.8,327.4 404.1,323.9 410.4,323.1 416.7,322.8 423.0,322.8 429.3,322.8 435.6,322.8 441.9,322.8 448.2,309.7 454.5,309.1 460.8,309.1 467.1,309.1 473.4,305.4 479.7,304.8 486.0,299.9 492.3,290.8 498.6,288.4 504.9,280.3 511.3,280.3 517.6,280.3 523.9,278.9 530.2,276.9 536.5,276.9 542.8,276.9 549.1,276.9 555.4,276.9 561.7,276.9 568.0,276.9 574.3,276.9 580.6,276.9 586.9,271.6 593.2,271.6 599.5,270.6 605.8,270.6 612.1,270.3 618.4,268.4 624.7,264.9 631.0,261.9 637.3,257.9 643.6,257.9 649.9,257.9 656.2,249.5 662.5,249.5 668.8,249.5 675.1,249.5 681.4,249.5 687.7,249.5 694.0,249.5 700.3,249.5 706.6,247.4 712.9,244.6 719.2,244.6 725.5,244.6 731.8,243.5 738.1,244.5 744.4,254.0 750.7,262.5 757.0,262.5 763.3,262.5 769.6,263.0 775.9,266.6 782.2,266.6 788.5,276.9 794.8,286.3 801.1,286.4 807.4,290.4 813.7,290.4 820.0,290.4 826.3,333.4 832.6,340.2 838.9,343.0 845.2,343.0 851.5,344.6 857.8,358.0 864.1,358.0 870.4,358.0 876.7,359.0 883.0,366.5 889.3,366.5 895.6,369.2 901.9,371.3 908.2,380.9 914.5,376.5 920.8,387.6 927.1,387.6 933.4,395.0 939.7,398.3 946.0,398.6 952.3,388.6 958.6,378.8 964.9,378.8 971.2,378.8 977.5,373.8 983.8,369.7 990.1,369.7 996.4,360.1 1002.7,342.5 1009.0,326.5 1015.3,326.5 1021.6,323.9 1027.9,315.6 1034.2,315.6 1040.5,315.6 1046.8,311.4 1053.1,304.9 1059.4,295.6 1065.7,295.6 1072.0,300.8 1078.3,302.8 1084.6,302.8 1090.9,300.8 1097.2,300.8 1103.5,300.8 1109.8,295.9 1116.1,294.6 1122.4,294.6 1128.7,283.2 1135.0,280.4 1141.3,267.5 1147.6,267.5 1153.9,267.5 1160.2,264.4 1166.5,256.2 1172.8,256.2 1179.1,252.8 1185.4,250.8 1191.7,250.9 1198.0,249.4 1204.3,253.3 1210.6,253.3 1216.9,253.3 1223.2,253.3 1229.5,255.1 1235.8,268.1 1242.1,278.2 1248.4,278.2 1254.7,279.1 1261.0,279.3 1267.3,280.5 1273.6,280.5 1279.9,285.7 1286.2,277.3 1292.5,269.8 1298.9,269.3 1305.2,267.9 1311.5,262.2 1317.8,260.1 1324.1,254.4 1330.4,246.4 1336.7,245.4 1343.0,234.1 1349.3,234.1 1355.6,227.3 1361.9,227.1 1368.2,229.2 1374.5,229.2 1380.8,229.2 1387.1,218.1 1393.4,216.8 1399.7,216.2 1406.0,207.0 1412.3,203.6 1418.6,203.6 1424.9,196.6 1431.2,196.6 1437.5,195.2 1443.8,186.6 1450.1,182.0 1456.4,175.8 1462.7,146.2 1469.0,129.2 1475.3,129.2 1481.6,134.1 1487.9,134.1"/>
<g fill="#089981" shape-rendering="crispEdges"><rect x="13" y="439" width="1" height="17"/><rect x="11" y="445" width="5" height="10"/><rect x="19" y="438" width="1" height="12"/><rect x="17" y="441" width="5" height="5"/><rect x="26" y="429" width="1" height="23"/><rect x="24" y="430" width="5" height="12"/><rect x="38" y="407" width="1" height="27"/><rect x="36" y="428" width="5" height="6"/><rect x="44" y="400" width="1" height="37"/><rect x="42" y="401" width="5" height="27"/><rect x="51" y="398" width="1" height="10"/><rect x="49" y="399" width="5" height="3"/><rect x="63" y="392" width="1" height="19"/><rect x="61" y="400" width="5" height="8"/><rect x="70" y="376" width="1" height="28"/><rect x="68" y="377" width="5" height="23"/><rect x="76" y="365" width="1" height="21"/><rect x="74" y="368" width="5" height="11"/><rect x="89" y="359" width="1" height="14"/><rect x="87" y="361" width="5" height="11"/><rect x="95" y="351" width="1" height="16"/><rect x="93" y="353" width="5" height="8"/><rect x="101" y="346" width="1" height="14"/><rect x="99" y="349" width="5" height="5"/><rect x="114" y="346" width="1" height="16"/><rect x="112" y="350" width="5" height="8"/><rect x="126" y="349" width="1" height="12"/><rect x="124" y="350" width="5" height="4"/><rect x="171" y="449" width="1" height="34"/><rect x="169" y="456" width="5" height="14"/><rect x="183" y="450" width="1" height="26"/><rect x="181" y="455" width="5" height="3"/><rect x="189" y="434" width="1" height="22"/><rect x="187" y="441" width="5" height="15"/><rect x="196" y="426" width="1" height="24"/><rect x="194" y="433" width="5" height="9"/><rect x="202" y="399" width="1" height="40"/><rect x="200" y="402" width="5" height="32"/><rect x="234" y="413" width="1" height="56"/><rect x="232" y="413" width="5" height="32"/><rect x="240" y="386" width="1" height="35"/><rect x="238" y="393" width="5" height="21"/><rect x="246" y="370" width="1" height="24"/><rect x="244" y="374" width="5" height="20"/><rect x="252" y="372" width="1" height="22"/><rect x="250" y="372" width="5" height="2"/><rect x="271" y="388" width="1" height="19"/><rect x="269" y="389" width="5" height="14"/><rect x="278" y="371" width="1" height="19"/><rect x="276" y="373" width="5" height="17"/><rect x="284" y="367" width="1" height="13"/><rect x="282" y="367" width="5" height="7"/><rect x="290" y="348" width="1" height="27"/><rect x="288" y="349" width="5" height="18"/><rect x="297" y="344" width="1" height="10"/><rect x="295" y="344" width="5" height="6"/><rect x="303" y="333" width="1" height="17"/><rect x="301" y="334" width="5" height="12"/><rect x="309" y="329" width="1" height="9"/><rect x="307" y="333" width="5" height="1"/><rect x="315" y="319" width="1" height="19"/><rect x="313" y="320" width="5" height="14"/><rect x="334" y="319" width="1" height="22"/><rect x="332" y="322" width="5" height="15"/><rect x="353" y="327" width="1" height="24"/><rect x="351" y="329" width="5" height="20"/><rect x="360" y="315" width="1" height="16"/><rect x="358" y="319" width="5" height="11"/><rect x="366" y="313" width="1" height="8"/><rect x="364" y="317" width="5" height="3"/><rect x="378" y="317" width="1" height="17"/><rect x="376" y="322" width="5" height="6"/><rect x="391" y="321" width="1" height="33"/><rect x="389" y="322" width="5" height="14"/><rect x="397" y="317" width="1" height="9"/><rect x="395" y="317" width="5" height="6"/><rect x="404" y="294" width="1" height="25"/><rect x="402" y="295" width="5" height="23"/><rect x="423" y="293" width="1" height="23"/><rect x="421" y="293" width="5" height="11"/><rect x="435" y="304" width="1" height="14"/><rect x="433" y="307" width="5" height="10"/><rect x="441" y="295" width="1" height="13"/><rect x="439" y="300" width="5" height="7"/><rect x="448" y="298" width="1" height="10"/><rect x="446" y="299" width="5" height="2"/><rect x="454" y="291" width="1" height="11"/><rect x="452" y="293" width="5" height="7"/><rect x="467" y="292" width="1" height="7"/><rect x="465" y="293" width="5" height="5"/><rect x="473" y="283" width="1" height="17"/><rect x="471" y="284" width="5" height="10"/><rect x="486" y="283" width="1" height="16"/><rect x="484" y="284" width="5" height="15"/><rect x="492" y="273" width="1" height="13"/><rect x="490" y="274" width="5" height="11"/><rect x="498" y="269" width="1" height="9"/><rect x="496" y="271" width="5" height="3"/><rect x="504" y="259" width="1" height="15"/><rect x="502" y="261" width="5" height="11"/><rect x="517" y="263" width="1" height="18"/><rect x="515" y="266" width="5" height="2"/><rect x="523" y="256" width="1" height="11"/><rect x="521" y="257" width="5" height="9"/><rect x="536" y="266" width="1" height="11"/><rect x="534" y="270" width="5" height="2"/><rect x="549" y="263" width="1" height="21"/><rect x="547" y="266" width="5" height="16"/><rect x="561" y="270" width="1" height="16"/><rect x="559" y="277" width="5" height="5"/><rect x="567" y="266" width="1" height="17"/><rect x="565" y="269" width="5" height="9"/><rect x="574" y="257" width="1" height="15"/><rect x="572" y="258" width="5" height="12"/><rect x="593" y="257" width="1" height="19"/><rect x="591" y="257" width="5" height="7"/><rect x="599" y="255" width="1" height="7"/><rect x="597" y="256" width="5" height="1"/><rect x="612" y="254" width="1" height="6"/><rect x="610" y="257" width="5" height="1"/><rect x="624" y="255" width="1" height="11"/><rect x="622" y="256" width="5" height="3"/><rect x="630" y="248" width="1" height="10"/><rect x="628" y="250" width="5" height="7"/><rect x="637" y="240" width="1" height="17"/><rect x="635" y="247" width="5" height="5"/><rect x="656" y="223" width="1" height="49"/><rect x="654" y="224" width="5" height="47"/><rect x="681" y="254" width="1" height="13"/><rect x="679" y="254" width="5" height="13"/><rect x="687" y="242" width="1" height="12"/><rect x="685" y="246" width="5" height="8"/><rect x="693" y="235" width="1" height="13"/><rect x="691" y="236" width="5" height="11"/><rect x="700" y="229" width="1" height="11"/><rect x="698" y="229" width="5" height="8"/><rect x="706" y="226" width="1" height="6"/><rect x="704" y="227" width="5" height="4"/><rect x="712" y="220" width="1" height="12"/><rect x="710" y="225" width="5" height="3"/><rect x="725" y="229" width="1" height="23"/><rect x="723" y="229" width="5" height="22"/><rect x="750" y="279" width="1" height="26"/><rect x="748" y="283" width="5" height="1"/><rect x="756" y="259" width="1" height="31"/><rect x="754" y="261" width="5" height="23"/><rect x="794" y="281" width="1" height="30"/><rect x="792" y="286" width="5" height="17"/><rect x="807" y="300" width="1" height="22"/><rect x="805" y="303" width="5" height="10"/><rect x="819" y="299" width="1" height="11"/><rect x="817" y="302" width="5" height="3"/><rect x="832" y="340" width="1" height="49"/><rect x="830" y="344" width="5" height="24"/><rect x="838" y="316" width="1" height="32"/><rect x="836" y="323" width="5" height="23"/><rect x="864" y="390" width="1" height="18"/><rect x="862" y="394" width="5" height="9"/><rect x="870" y="377" width="1" height="20"/><rect x="868" y="382" width="5" height="14"/><rect x="876" y="345" width="1" height="49"/><rect x="874" y="364" width="5" height="19"/><rect x="895" y="386" width="1" height="15"/><rect x="893" y="390" width="5" height="5"/><rect x="901" y="390" width="1" height="2"/><rect x="899" y="390" width="5" height="1"/><rect x="908" y="387" width="1" height="10"/><rect x="906" y="390" width="5" height="3"/><rect x="933" y="416" width="1" height="1"/><rect x="931" y="416" width="5" height="1"/><rect x="939" y="395" width="1" height="25"/><rect x="937" y="399" width="5" height="21"/><rect x="946" y="367" width="1" height="34"/><rect x="944" y="376" width="5" height="24"/><rect x="952" y="347" width="1" height="35"/><rect x="950" y="352" width="5" height="24"/><rect x="958" y="328" width="1" height="38"/><rect x="956" y="349" width="5" height="3"/><rect x="971" y="351" width="1" height="21"/><rect x="969" y="353" width="5" height="6"/><rect x="977" y="329" width="1" height="26"/><rect x="975" y="330" width="5" height="23"/><rect x="996" y="328" width="1" height="19"/><rect x="994" y="330" width="5" height="17"/><rect x="1002" y="303" width="1" height="31"/><rect x="1000" y="303" width="5" height="28"/><rect x="1009" y="281" width="1" height="25"/><rect x="1007" y="287" width="5" height="17"/><rect x="1034" y="278" width="1" height="30"/><rect x="1032" y="284" width="5" height="5"/><rect x="1046" y="291" width="1" height="16"/><rect x="1044" y="295" width="5" height="3"/><rect x="1053" y="286" width="1" height="15"/><rect x="1051" y="289" width="5" height="6"/><rect x="1065" y="292" width="1" height="14"/><rect x="1063" y="297" width="5" height="3"/><rect x="1084" y="280" width="1" height="42"/><rect x="1082" y="285" width="5" height="36"/><rect x="1090" y="274" width="1" height="11"/><rect x="1088" y="279" width="5" height="5"/><rect x="1103" y="286" width="1" height="10"/><rect x="1101" y="287" width="5" height="6"/><rect x="1109" y="264" width="1" height="26"/><rect x="1107" y="267" width="5" height="21"/><rect x="1122" y="263" width="1" height="11"/><rect x="1120" y="266" width="5" height="2"/><rect x="1128" y="239" width="1" height="28"/><rect x="1126" y="240" width="5" height="27"/><rect x="1147" y="243" width="1" height="14"/><rect x="1145" y="250" width="5" height="6"/><rect x="1166" y="248" width="1" height="9"/><rect x="1164" y="251" width="5" height="5"/><rect x="1172" y="242" width="1" height="12"/><rect x="1170" y="245" width="5" height="7"/><rect x="1185" y="239" width="1" height="10"/><rect x="1183" y="242" width="5" height="4"/><rect x="1198" y="239" width="1" height="8"/><rect x="1196" y="242" width="5" height="4"/><rect x="1210" y="241" width="1" height="16"/><rect x="1208" y="252" width="5" height="5"/><rect x="1216" y="244" width="1" height="13"/><rect x="1214" y="245" width="5" height="8"/><rect x="1254" y="287" width="1" height="28"/><rect x="1252" y="296" width="5" height="14"/><rect x="1261" y="289" width="1" height="15"/><rect x="1259" y="295" width="5" height="2"/><rect x="1267" y="283" width="1" height="16"/><rect x="1265" y="284" width="5" height="12"/><rect x="1273" y="269" width="1" height="21"/><rect x="1271" y="271" width="5" height="14"/><rect x="1279" y="266" width="1" height="8"/><rect x="1277" y="269" width="5" height="3"/><rect x="1286" y="237" width="1" height="35"/><rect x="1284" y="239" width="5" height="32"/><rect x="1292" y="222" width="1" height="19"/><rect x="1290" y="232" width="5" height="8"/><rect x="1298" y="223" width="1" height="26"/><rect x="1296" y="225" width="5" height="7"/><rect x="1317" y="225" width="1" height="7"/><rect x="1315" y="226" width="5" height="4"/><rect x="1330" y="226" width="1" height="8"/><rect x="1328" y="229" width="5" height="1"/><rect x="1342" y="222" width="1" height="10"/><rect x="1340" y="225" width="5" height="5"/><rect x="1355" y="219" width="1" height="9"/><rect x="1353" y="224" width="5" height="3"/><rect x="1368" y="224" width="1" height="16"/><rect x="1366" y="225" width="5" height="5"/><rect x="1374" y="220" width="1" height="6"/><rect x="1372" y="221" width="5" height="5"/><rect x="1387" y="196" width="1" height="28"/><rect x="1385" y="198" width="5" height="26"/><rect x="1393" y="194" width="1" height="10"/><rect x="1391" y="195" width="5" height="3"/><rect x="1405" y="174" width="1" height="27"/><rect x="1403" y="177" width="5" height="20"/><rect x="1412" y="168" width="1" height="16"/><rect x="1410" y="169" width="5" height="9"/><rect x="1424" y="170" width="1" height="13"/><rect x="1422" y="171" width="5" height="5"/><rect x="1437" y="167" width="1" height="7"/><rect x="1435" y="167" width="5" height="5"/><rect x="1450" y="157" width="1" height="12"/><rect x="1448" y="158" width="5" height="10"/><rect x="1456" y="151" width="1" height="10"/><rect x="1454" y="152" width="5" height="7"/><rect x="1462" y="102" width="1" height="63"/><rect x="1460" y="104" width="5" height="49"/><rect x="1475" y="113" width="1" height="32"/><rect x="1473" y="114" width="5" height="27"/></g>
<g fill="#f23645" shape-rendering="crispEdges"><rect x="32" y="429" width="1" height="17"/><rect x="30" y="430" width="5" height="4"/><rect x="57" y="394" width="1" height="17"/><rect x="55" y="399" width="5" height="9"/><rect x="82" y="367" width="1" height="13"/><rect x="80" y="368" width="5" height="3"/><rect x="107" y="343" width="1" height="16"/><rect x="105" y="350" width="5" height="8"/><rect x="120" y="349" width="1" height="9"/><rect x="118" y="350" width="5" height="5"/><rect x="133" y="349" width="1" height="20"/><rect x="131" y="350" width="5" height="12"/><rect x="139" y="359" width="1" height="38"/><rect x="137" y="361" width="5" height="36"/><rect x="145" y="380" width="1" height="32"/><rect x="143" y="396" width="5" height="16"/><rect x="152" y="408" width="1" height="23"/><rect x="150" y="411" width="5" height="18"/><rect x="158" y="428" width="1" height="39"/><rect x="156" y="428" width="5" height="34"/><rect x="164" y="453" width="1" height="19"/><rect x="162" y="462" width="5" height="8"/><rect x="177" y="445" width="1" height="25"/><rect x="175" y="456" width="5" height="2"/><rect x="208" y="402" width="1" height="18"/><rect x="206" y="402" width="5" height="7"/><rect x="215" y="403" width="1" height="17"/><rect x="213" y="408" width="5" height="11"/><rect x="221" y="413" width="1" height="23"/><rect x="219" y="418" width="5" height="13"/><rect x="227" y="410" width="1" height="45"/><rect x="225" y="430" width="5" height="15"/><rect x="259" y="364" width="1" height="33"/><rect x="257" y="374" width="5" height="15"/><rect x="265" y="382" width="1" height="24"/><rect x="263" y="388" width="5" height="15"/><rect x="322" y="316" width="1" height="16"/><rect x="320" y="320" width="5" height="10"/><rect x="328" y="329" width="1" height="17"/><rect x="326" y="329" width="5" height="9"/><rect x="341" y="319" width="1" height="15"/><rect x="339" y="322" width="5" height="6"/><rect x="347" y="328" width="1" height="24"/><rect x="345" y="328" width="5" height="20"/><rect x="372" y="301" width="1" height="31"/><rect x="370" y="317" width="5" height="11"/><rect x="385" y="322" width="1" height="16"/><rect x="383" y="322" width="5" height="14"/><rect x="410" y="292" width="1" height="16"/><rect x="408" y="295" width="5" height="2"/><rect x="416" y="292" width="1" height="14"/><rect x="414" y="296" width="5" height="8"/><rect x="429" y="293" width="1" height="35"/><rect x="427" y="293" width="5" height="24"/><rect x="460" y="293" width="1" height="5"/><rect x="458" y="294" width="5" height="4"/><rect x="479" y="282" width="1" height="20"/><rect x="477" y="284" width="5" height="15"/><rect x="511" y="261" width="1" height="9"/><rect x="509" y="261" width="5" height="7"/><rect x="530" y="251" width="1" height="52"/><rect x="528" y="257" width="5" height="15"/><rect x="542" y="270" width="1" height="16"/><rect x="540" y="270" width="5" height="12"/><rect x="555" y="266" width="1" height="16"/><rect x="553" y="266" width="5" height="16"/><rect x="580" y="258" width="1" height="6"/><rect x="578" y="258" width="5" height="5"/><rect x="586" y="259" width="1" height="7"/><rect x="584" y="262" width="5" height="1"/><rect x="605" y="255" width="1" height="5"/><rect x="603" y="255" width="5" height="4"/><rect x="618" y="254" width="1" height="7"/><rect x="616" y="257" width="5" height="2"/><rect x="643" y="247" width="1" height="16"/><rect x="641" y="247" width="5" height="15"/><rect x="649" y="257" width="1" height="19"/><rect x="647" y="261" width="5" height="10"/><rect x="662" y="224" width="1" height="17"/><rect x="660" y="224" width="5" height="14"/><rect x="668" y="237" width="1" height="20"/><rect x="666" y="237" width="5" height="10"/><rect x="675" y="246" width="1" height="23"/><rect x="673" y="247" width="5" height="20"/><rect x="719" y="221" width="1" height="30"/><rect x="717" y="225" width="5" height="25"/><rect x="731" y="228" width="1" height="20"/><rect x="729" y="229" width="5" height="12"/><rect x="738" y="240" width="1" height="29"/><rect x="736" y="241" width="5" height="20"/><rect x="744" y="261" width="1" height="27"/><rect x="742" y="261" width="5" height="24"/><rect x="763" y="260" width="1" height="14"/><rect x="761" y="261" width="5" height="1"/><rect x="769" y="259" width="1" height="10"/><rect x="767" y="262" width="5" height="2"/><rect x="775" y="262" width="1" height="18"/><rect x="773" y="264" width="5" height="16"/><rect x="782" y="276" width="1" height="26"/><rect x="780" y="279" width="5" height="22"/><rect x="788" y="292" width="1" height="22"/><rect x="786" y="300" width="5" height="3"/><rect x="801" y="284" width="1" height="30"/><rect x="799" y="286" width="5" height="25"/><rect x="813" y="301" width="1" height="15"/><rect x="811" y="303" width="5" height="2"/><rect x="826" y="301" width="1" height="104"/><rect x="824" y="302" width="5" height="66"/><rect x="845" y="322" width="1" height="27"/><rect x="843" y="323" width="5" height="13"/><rect x="851" y="326" width="1" height="61"/><rect x="849" y="335" width="5" height="47"/><rect x="857" y="378" width="1" height="39"/><rect x="855" y="381" width="5" height="22"/><rect x="882" y="360" width="1" height="15"/><rect x="880" y="364" width="5" height="4"/><rect x="889" y="367" width="1" height="30"/><rect x="887" y="367" width="5" height="28"/><rect x="914" y="384" width="1" height="22"/><rect x="912" y="390" width="5" height="13"/><rect x="920" y="400" width="1" height="30"/><rect x="918" y="402" width="5" height="9"/><rect x="927" y="400" width="1" height="20"/><rect x="925" y="410" width="5" height="8"/><rect x="964" y="346" width="1" height="22"/><rect x="962" y="350" width="5" height="9"/><rect x="983" y="319" width="1" height="24"/><rect x="981" y="330" width="5" height="8"/><rect x="990" y="334" width="1" height="21"/><rect x="988" y="337" width="5" height="10"/><rect x="1015" y="285" width="1" height="11"/><rect x="1013" y="287" width="5" height="1"/><rect x="1021" y="276" width="1" height="16"/><rect x="1019" y="287" width="5" height="1"/><rect x="1027" y="285" width="1" height="12"/><rect x="1025" y="288" width="5" height="2"/><rect x="1040" y="283" width="1" height="32"/><rect x="1038" y="284" width="5" height="14"/><rect x="1059" y="284" width="1" height="20"/><rect x="1057" y="287" width="5" height="14"/><rect x="1072" y="292" width="1" height="34"/><rect x="1070" y="297" width="5" height="9"/><rect x="1078" y="304" width="1" height="24"/><rect x="1076" y="305" width="5" height="16"/><rect x="1097" y="276" width="1" height="18"/><rect x="1095" y="279" width="5" height="15"/><rect x="1116" y="262" width="1" height="10"/><rect x="1114" y="266" width="5" height="2"/><rect x="1135" y="239" width="1" height="9"/><rect x="1133" y="240" width="5" height="4"/><rect x="1141" y="243" width="1" height="20"/><rect x="1139" y="244" width="5" height="12"/><rect x="1153" y="249" width="1" height="7"/><rect x="1151" y="252" width="5" height="1"/><rect x="1160" y="246" width="1" height="14"/><rect x="1158" y="252" width="5" height="4"/><rect x="1179" y="240" width="1" height="9"/><rect x="1177" y="244" width="5" height="2"/><rect x="1191" y="242" width="1" height="10"/><rect x="1189" y="242" width="5" height="4"/><rect x="1204" y="241" width="1" height="27"/><rect x="1202" y="242" width="5" height="15"/><rect x="1223" y="244" width="1" height="15"/><rect x="1221" y="245" width="5" height="12"/><rect x="1229" y="254" width="1" height="17"/><rect x="1227" y="256" width="5" height="11"/><rect x="1235" y="264" width="1" height="33"/><rect x="1233" y="266" width="5" height="24"/><rect x="1242" y="288" width="1" height="29"/><rect x="1240" y="289" width="5" height="19"/><rect x="1248" y="305" width="1" height="11"/><rect x="1246" y="307" width="5" height="3"/><rect x="1305" y="221" width="1" height="15"/><rect x="1303" y="225" width="5" height="4"/><rect x="1311" y="226" width="1" height="9"/><rect x="1309" y="228" width="5" height="1"/><rect x="1324" y="219" width="1" height="17"/><rect x="1322" y="226" width="5" height="4"/><rect x="1336" y="227" width="1" height="5"/><rect x="1334" y="229" width="5" height="1"/><rect x="1349" y="222" width="1" height="6"/><rect x="1347" y="225" width="5" height="2"/><rect x="1361" y="222" width="1" height="12"/><rect x="1359" y="224" width="5" height="6"/><rect x="1380" y="220" width="1" height="6"/><rect x="1378" y="221" width="5" height="2"/><rect x="1399" y="193" width="1" height="14"/><rect x="1397" y="195" width="5" height="1"/><rect x="1418" y="169" width="1" height="10"/><rect x="1416" y="169" width="5" height="7"/><rect x="1431" y="170" width="1" height="20"/><rect x="1429" y="171" width="5" height="1"/><rect x="1443" y="166" width="1" height="6"/><rect x="1441" y="167" width="5" height="1"/><rect x="1468" y="68" width="1" height="105"/><rect x="1466" y="104" width="5" height="37"/><rect x="1481" y="109" width="1" height="91"/><rect x="1479" y="114" width="5" height="58"/><rect x="1487" y="141" width="1" height="57"/><rect x="1485" y="171" width="5" height="27"/></g>
<line x1="1323.5" y1="219.5" x2="1647" y2="219.5" stroke="#2a2e39" stroke-width="1.1"/>
<line x1="10" y1="197.5" x2="1647" y2="197.5" stroke="#f23645" stroke-width="1.2" stroke-dasharray="1,2" shape-rendering="crispEdges"/>
</g>
<rect x="11" y="594" width="1691" height="1" fill="#e1e3ea"/>
<rect x="10" y="10" width="1693" height="730" fill="none" stroke="#edeef2" stroke-width="2"/>
<g clip-path="url(#cr)">
<rect x="11" y="635.4" width="1636" height="61.8" fill="rgba(126,87,194,0.1)"/>
<line x1="10" y1="635.5" x2="1646" y2="635.5" stroke="#787b86" stroke-width="1" stroke-dasharray="5,6" shape-rendering="crispEdges"/>
<line x1="10" y1="666.5" x2="1646" y2="666.5" stroke="#787b86" stroke-width="1" stroke-dasharray="5,6" shape-rendering="crispEdges"/>
<line x1="10" y1="697.5" x2="1646" y2="697.5" stroke="#787b86" stroke-width="1" stroke-dasharray="5,6" shape-rendering="crispEdges"/>
<polyline fill="none" stroke="#7e57c2" stroke-width="2" stroke-linejoin="round" points="7.2,657.0 13.5,653.2 19.8,651.3 26.1,646.4 32.4,648.8 38.7,646.4 45.0,635.6 51.3,634.9 57.6,641.9 63.9,638.8 70.2,631.2 76.5,628.5 82.8,631.1 89.1,628.0 95.4,625.8 101.7,624.7 108.0,632.7 114.3,630.0 120.6,634.3 126.9,632.5 133.2,643.3 139.5,666.6 145.8,674.0 152.1,681.4 158.4,692.7 164.7,695.0 171.0,687.0 177.3,687.5 183.6,685.7 189.9,677.2 196.2,672.6 202.5,658.0 208.8,661.4 215.1,666.4 221.4,671.8 227.7,677.7 234.0,663.0 240.3,655.4 246.6,649.1 252.9,648.6 259.2,656.8 265.5,663.3 271.8,657.8 278.1,652.1 284.4,650.2 290.7,644.3 297.0,643.0 303.3,639.9 309.6,639.6 315.9,635.6 322.2,642.0 328.5,647.1 334.8,641.6 341.1,645.7 347.4,657.2 353.7,649.7 360.0,646.4 366.3,645.7 372.6,652.3 378.9,649.9 385.2,658.0 391.5,651.9 397.8,650.1 404.1,642.0 410.4,643.1 416.7,647.7 423.0,643.6 429.3,657.8 435.6,654.0 441.9,651.0 448.2,650.4 454.5,648.1 460.8,651.2 467.1,649.0 473.4,644.9 479.7,655.5 486.0,648.6 492.3,644.3 498.6,643.2 504.9,639.1 511.3,644.4 517.6,643.7 523.9,639.7 530.2,652.2 536.5,650.9 542.8,659.5 549.1,651.3 555.4,661.6 561.7,659.0 568.0,654.8 574.3,649.5 580.6,652.9 586.9,653.2 593.2,649.9 599.5,649.1 605.8,651.8 612.1,650.9 618.4,652.9 624.7,650.5 631.0,646.6 637.3,644.6 643.6,660.0 649.9,667.2 656.2,640.8 662.5,651.1 668.8,656.9 675.1,668.3 681.4,661.7 687.7,657.9 694.0,653.0 700.3,650.1 706.6,649.3 712.9,648.3 719.2,664.9 725.5,654.6 731.8,661.5 738.1,671.0 744.4,680.8 750.7,679.9 757.0,668.7 763.3,669.1 769.6,670.3 775.9,677.2 782.2,685.4 788.5,686.3 794.8,676.1 801.1,685.5 807.4,681.3 813.7,682.1 820.0,680.1 826.3,699.9 832.6,687.9 838.9,678.6 845.2,682.4 851.5,693.5 857.8,697.7 864.1,693.8 870.4,688.7 876.7,681.1 883.0,682.2 889.3,689.3 895.6,686.8 901.9,686.9 908.2,686.7 914.5,690.5 920.8,692.8 927.1,694.6 933.4,693.6 939.7,683.3 946.0,671.9 952.3,661.9 958.6,660.7 964.9,665.3 971.2,662.5 977.5,653.4 983.8,657.4 990.1,661.7 996.4,654.9 1002.7,645.9 1009.0,641.4 1015.3,642.1 1021.6,642.1 1027.9,643.0 1034.2,641.1 1040.5,649.8 1046.8,648.8 1053.1,646.4 1059.4,654.0 1065.7,652.3 1072.0,658.1 1078.3,667.0 1084.6,650.5 1090.9,648.2 1097.2,656.5 1103.5,653.7 1109.8,646.0 1116.1,646.7 1122.4,645.9 1128.7,636.9 1135.0,639.7 1141.3,647.5 1147.6,645.1 1153.9,647.4 1160.2,649.4 1166.5,647.2 1172.8,644.4 1179.1,645.0 1185.4,643.3 1191.7,646.5 1198.0,644.6 1204.3,657.3 1210.6,654.7 1216.9,650.1 1223.2,659.8 1229.5,667.3 1235.8,680.7 1242.1,688.9 1248.4,689.8 1254.7,679.8 1261.0,678.8 1267.3,671.1 1273.6,662.8 1279.9,661.8 1286.2,646.7 1292.5,644.2 1298.9,641.2 1305.2,644.3 1311.5,644.3 1317.8,643.1 1324.1,646.8 1330.4,646.0 1336.7,647.4 1343.0,644.1 1349.3,646.3 1355.6,644.6 1361.9,651.1 1368.2,646.9 1374.5,643.5 1380.8,645.4 1387.1,630.9 1393.4,629.7 1399.7,630.3 1406.0,622.0 1412.3,619.7 1418.6,627.1 1424.9,624.9 1431.2,624.9 1437.5,623.7 1443.8,624.0 1450.1,620.1 1456.4,618.1 1462.7,607.0 1469.0,638.4 1475.3,630.9 1481.6,661.9 1487.9,671.5"/>
</g>
<text x="18.5" y="30" font-size="13" fill="#131722" text-anchor="start" font-weight="normal" textLength="99.5" lengthAdjust="spacingAndGlyphs">USD/JPY Spot, 1D</text><text x="125.9" y="30" font-size="13" fill="#131722" text-anchor="start" font-weight="normal">O</text><text x="135.2" y="30" font-size="13" fill="#f23645" text-anchor="start" font-weight="normal" textLength="36.1" lengthAdjust="spacingAndGlyphs">154.62</text><text x="180" y="30" font-size="13" fill="#131722" text-anchor="start" font-weight="normal">H</text><text x="188.5" y="30" font-size="13" fill="#f23645" text-anchor="start" font-weight="normal" textLength="36.4" lengthAdjust="spacingAndGlyphs">156.29</text><text x="233.7" y="30" font-size="13" fill="#131722" text-anchor="start" font-weight="normal">L</text><text x="240.8" y="30" font-size="13" fill="#f23645" text-anchor="start" font-weight="normal" textLength="35.8" lengthAdjust="spacingAndGlyphs">153.06</text><text x="285.2" y="30" font-size="13" fill="#131722" text-anchor="start" font-weight="normal">C</text><text x="294" y="30" font-size="13" fill="#f23645" text-anchor="start" font-weight="normal" textLength="35.5" lengthAdjust="spacingAndGlyphs">153.17</text><text x="338.3" y="30" font-size="13" fill="#f23645" text-anchor="start" font-weight="normal" textLength="30.4" lengthAdjust="spacingAndGlyphs">−1.44</text><text x="373" y="30" font-size="13" fill="#f23645" text-anchor="start" font-weight="normal" textLength="46.2" lengthAdjust="spacingAndGlyphs">(−0.93%)</text><text x="18" y="48" font-size="13" fill="#131722" text-anchor="start" font-weight="normal" textLength="250.8" lengthAdjust="spacingAndGlyphs">Moving Average Triple (50, 100, 200, Simple)</text><text x="278.1" y="48" font-size="13" fill="#ff6d00" text-anchor="start" font-weight="normal" textLength="36.5" lengthAdjust="spacingAndGlyphs">151.87</text><text x="323.3" y="48" font-size="13" fill="#2196f3" text-anchor="start" font-weight="normal" textLength="36.7" lengthAdjust="spacingAndGlyphs">149.10</text><text x="368.7" y="48" font-size="13" fill="#26c6da" text-anchor="start" font-weight="normal" textLength="36.5" lengthAdjust="spacingAndGlyphs">148.36</text><text x="19" y="66" font-size="13" fill="#131722" text-anchor="start" font-weight="normal" textLength="155.4" lengthAdjust="spacingAndGlyphs">Ichimoku (9, 26, 52, 26, 26)</text><text x="183.8" y="66" font-size="13" fill="#2196f3" text-anchor="start" font-weight="normal" textLength="36.4" lengthAdjust="spacingAndGlyphs">156.68</text><text x="228.6" y="66" font-size="13" fill="#801922" text-anchor="start" font-weight="normal" textLength="36.5" lengthAdjust="spacingAndGlyphs">155.57</text><text x="274" y="66" font-size="13" fill="#43a047" text-anchor="start" font-weight="normal" textLength="36.8" lengthAdjust="spacingAndGlyphs">153.17</text><text x="319.2" y="66" font-size="13" fill="#a5d6a7" text-anchor="start" font-weight="normal" textLength="36.5" lengthAdjust="spacingAndGlyphs">156.12</text><text x="364.1" y="66" font-size="13" fill="#f7a1a4" text-anchor="start" font-weight="normal" textLength="37.3" lengthAdjust="spacingAndGlyphs">153.40</text><text x="18.3" y="615" font-size="13" fill="#131722" text-anchor="start" font-weight="normal" textLength="42.6" lengthAdjust="spacingAndGlyphs">RSI (14)</text><text x="69" y="615" font-size="13" fill="#7e57c2" text-anchor="start" font-weight="normal" textLength="31.2" lengthAdjust="spacingAndGlyphs">46.89</text>
<text x="1655.7" y="582.8" font-size="12.5" fill="#131722" text-anchor="start" font-weight="normal" textLength="37.3" lengthAdjust="spacingAndGlyphs">132.00</text><text x="1655.7" y="546.8" font-size="12.5" fill="#131722" text-anchor="start" font-weight="normal" textLength="37.3" lengthAdjust="spacingAndGlyphs">134.00</text><text x="1655.7" y="510.79999999999995" font-size="12.5" fill="#131722" text-anchor="start" font-weight="normal" textLength="37.3" lengthAdjust="spacingAndGlyphs">136.00</text><text x="1655.7" y="474.79999999999995" font-size="12.5" fill="#131722" text-anchor="start" font-weight="normal" textLength="37.3" lengthAdjust="spacingAndGlyphs">138.00</text><text x="1655.7" y="438.79999999999995" font-size="12.5" fill="#131722" text-anchor="start" font-weight="normal" textLength="37.3" lengthAdjust="spacingAndGlyphs">140.00</text><text x="1655.7" y="402.79999999999995" font-size="12.5" fill="#131722" text-anchor="start" font-weight="normal" textLength="37.3" lengthAdjust="spacingAndGlyphs">142.00</text><text x="1655.7" y="366.79999999999995" font-size="12.5" fill="#131722" text-anchor="start" font-weight="normal" textLength="37.3" lengthAdjust="spacingAndGlyphs">144.00</text><text x="1655.7" y="330.79999999999995" font-size="12.5" fill="#131722" text-anchor="start" font-weight="normal" textLength="37.3" lengthAdjust="spacingAndGlyphs">146.00</text><text x="1655.7" y="294.79999999999995" font-size="12.5" fill="#131722" text-anchor="start" font-weight="normal" textLength="37.3" lengthAdjust="spacingAndGlyphs">148.00</text><text x="1655.7" y="258.79999999999995" font-size="12.5" fill="#131722" text-anchor="start" font-weight="normal" textLength="37.3" lengthAdjust="spacingAndGlyphs">150.00</text><text x="1655.7" y="222.79999999999998" font-size="12.5" fill="#131722" text-anchor="start" font-weight="normal" textLength="37.3" lengthAdjust="spacingAndGlyphs">152.00</text><text x="1655.7" y="186.79999999999998" font-size="12.5" fill="#131722" text-anchor="start" font-weight="normal" textLength="37.3" lengthAdjust="spacingAndGlyphs">154.00</text><text x="1655.7" y="150.79999999999998" font-size="12.5" fill="#131722" text-anchor="start" font-weight="normal" textLength="37.3" lengthAdjust="spacingAndGlyphs">156.00</text><text x="1655.7" y="114.79999999999998" font-size="12.5" fill="#131722" text-anchor="start" font-weight="normal" textLength="37.3" lengthAdjust="spacingAndGlyphs">158.00</text><text x="1655.7" y="78.79999999999998" font-size="12.5" fill="#131722" text-anchor="start" font-weight="normal" textLength="37.3" lengthAdjust="spacingAndGlyphs">160.00</text><text x="1655.7" y="42.799999999999976" font-size="12.5" fill="#131722" text-anchor="start" font-weight="normal" textLength="37.3" lengthAdjust="spacingAndGlyphs">162.00</text><text x="1655.2" y="624.3499999999999" font-size="12.5" fill="#131722" text-anchor="start" font-weight="normal" textLength="31.5" lengthAdjust="spacingAndGlyphs">80.00</text><text x="1655.2" y="686.15" font-size="12.5" fill="#131722" text-anchor="start" font-weight="normal" textLength="31.5" lengthAdjust="spacingAndGlyphs">40.00</text>
<path d="M1647,99 H1696 Q1698,99 1698,101 V115 Q1698,117 1696,117 H1647 Z" fill="#2196f3"/>
<text stroke="#ffffff" stroke-width="0.35" x="1656" y="112.4" font-size="12.5" fill="#ffffff" text-anchor="start" font-weight="normal" textLength="37.3" lengthAdjust="spacingAndGlyphs">156.68</text>
<path d="M1647,117 H1696 Q1698,117 1698,119 V134 Q1698,136 1696,136 H1647 Z" fill="#a5d6a7"/>
<text x="1656" y="130.9" font-size="12.5" fill="#131722" text-anchor="start" font-weight="normal" textLength="37.3" lengthAdjust="spacingAndGlyphs">156.12</text>
<path d="M1647,136 H1696 Q1698,136 1698,138 V150 Q1698,152 1696,152 H1647 Z" fill="#801922"/>
<text stroke="#ffffff" stroke-width="0.35" x="1656" y="148.4" font-size="12.5" fill="#ffffff" text-anchor="start" font-weight="normal" textLength="37.3" lengthAdjust="spacingAndGlyphs">155.57</text>
<path d="M1647,152 H1696 Q1698,152 1698,154 V168 Q1698,170 1696,170 H1647 Z" fill="#faa1a4"/>
<text x="1656" y="165.4" font-size="12.5" fill="#131722" text-anchor="start" font-weight="normal" textLength="37.3" lengthAdjust="spacingAndGlyphs">153.40</text>
<path d="M1647,170 H1696 Q1698,170 1698,172 V186.6 Q1698,188.6 1696,188.6 H1647 Z" fill="#f23645"/>
<text stroke="#ffffff" stroke-width="0.35" x="1656" y="183.70000000000002" font-size="12.5" fill="#ffffff" text-anchor="start" font-weight="normal" textLength="37.3" lengthAdjust="spacingAndGlyphs">153.17</text>
<path d="M1647,188.6 H1696 Q1698,188.6 1698,190.6 V204.7 Q1698,206.7 1696,206.7 H1647 Z" fill="#43a047"/>
<text stroke="#ffffff" stroke-width="0.35" x="1656" y="202.04999999999998" font-size="12.5" fill="#ffffff" text-anchor="start" font-weight="normal" textLength="37.3" lengthAdjust="spacingAndGlyphs">153.17</text>
<path d="M1647,210.3 H1696 Q1698,210.3 1698,212.3 V225.7 Q1698,227.7 1696,227.7 H1647 Z" fill="#2a2e39"/>
<text stroke="#ffffff" stroke-width="0.35" x="1656" y="223.4" font-size="12.5" fill="#ffffff" text-anchor="start" font-weight="normal" textLength="37.3" lengthAdjust="spacingAndGlyphs">151.97</text>
<path d="M1647,227.7 H1696 Q1698,227.7 1698,229.7 V244.3 Q1698,246.3 1696,246.3 H1647 Z" fill="#ff6d00"/>
<text stroke="#ffffff" stroke-width="0.35" x="1656" y="241.4" font-size="12.5" fill="#ffffff" text-anchor="start" font-weight="normal" textLength="37.3" lengthAdjust="spacingAndGlyphs">151.87</text>
<path d="M1647,262.4 H1696 Q1698,262.4 1698,264.4 V276.8 Q1698,278.8 1696,278.8 H1647 Z" fill="#2196f3"/>
<text stroke="#ffffff" stroke-width="0.35" x="1656" y="275.0" font-size="12.5" fill="#ffffff" text-anchor="start" font-weight="normal" textLength="37.3" lengthAdjust="spacingAndGlyphs">149.10</text>
<path d="M1647,278.8 H1696 Q1698,278.8 1698,280.8 V295.4 Q1698,297.4 1696,297.4 H1647 Z" fill="#26c6da"/>
<text x="1656" y="292.5" font-size="12.5" fill="#131722" text-anchor="start" font-weight="normal" textLength="37.3" lengthAdjust="spacingAndGlyphs">148.36</text>
<path d="M1647,662 H1690 Q1692,662 1692,664 V679 Q1692,681 1690,681 H1647 Z" fill="#7e57c2"/>
<text stroke="#ffffff" stroke-width="0.35" x="1656.2" y="675.9" font-size="12.5" fill="#ffffff" text-anchor="start" font-weight="normal" textLength="31.7" lengthAdjust="spacingAndGlyphs">46.89</text>
<text x="106.3" y="730" font-size="13" fill="#131722" text-anchor="start" font-weight="normal" textLength="15.7" lengthAdjust="spacingAndGlyphs">Jul</text><text x="235.9" y="730" font-size="13" fill="#131722" text-anchor="start" font-weight="normal" textLength="21" lengthAdjust="spacingAndGlyphs">Aug</text><text x="381.2" y="730" font-size="13" fill="#131722" text-anchor="start" font-weight="normal" textLength="20" lengthAdjust="spacingAndGlyphs">Sep</text><text x="513.3" y="730" font-size="13" fill="#131722" text-anchor="start" font-weight="normal" textLength="19.6" lengthAdjust="spacingAndGlyphs">Oct</text><text x="651.6" y="730" font-size="13" fill="#131722" text-anchor="start" font-weight="normal" textLength="21" lengthAdjust="spacingAndGlyphs">Nov</text><text x="790.6" y="730" font-size="13" fill="#131722" text-anchor="start" font-weight="normal" textLength="20.3" lengthAdjust="spacingAndGlyphs">Dec</text><text x="919.2" y="730" font-size="13" fill="#131722" text-anchor="start" font-weight="bold" textLength="28.3" lengthAdjust="spacingAndGlyphs">2024</text><text x="1068" y="730" font-size="13" fill="#131722" text-anchor="start" font-weight="normal" textLength="19.6" lengthAdjust="spacingAndGlyphs">Feb</text><text x="1199.5" y="730" font-size="13" fill="#131722" text-anchor="start" font-weight="normal" textLength="20.4" lengthAdjust="spacingAndGlyphs">Mar</text><text x="1333" y="730" font-size="13" fill="#131722" text-anchor="start" font-weight="normal" textLength="18.7" lengthAdjust="spacingAndGlyphs">Apr</text><text x="1470" y="730" font-size="13" fill="#131722" text-anchor="start" font-weight="normal" textLength="22" lengthAdjust="spacingAndGlyphs">May</text><text x="1615.6" y="730" font-size="13" fill="#131722" text-anchor="start" font-weight="normal" textLength="20.2" lengthAdjust="spacingAndGlyphs">Jun</text>
<g fill="#131722">
<path d="M10,753 H17.8 V763.4 H14.1 V756.9 H10 Z"/>
<circle cx="21.6" cy="755.5" r="2.2"/>
<path d="M26.1,753 H30.5 L26.6,763.4 H22.1 Z"/>
</g>
<text x="34.4" y="763.5" font-size="14.5" fill="#131722" text-anchor="start" font-weight="normal" textLength="73.6" lengthAdjust="spacingAndGlyphs">TradingView</text>
</svg></body></html>
